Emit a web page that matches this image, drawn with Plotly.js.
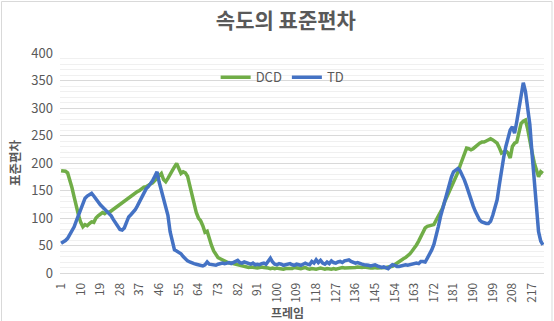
<!DOCTYPE html>
<html>
<head>
<meta charset="utf-8">
<script src="https://cdn.plot.ly/plotly-3.0.1.min.js"></script>
<style>
  html, body { margin: 0; padding: 0; background: #ffffff; }
  #chart { width: 554px; height: 321px; }
</style>
</head>
<body>
<div id="chart"></div>
<script>
// Frame categories 1..222
const frames = Array.from({length: 222}, (_, i) => i + 1);

const tickFrames = [1, 10, 19, 28, 37, 46, 55, 64, 73, 82, 91, 100, 109, 118, 127, 136, 145, 154, 163, 172, 181, 190, 199, 208, 217];
const tickLabels = ['1','10','19','28','37','46','55','64','73','82','91','100','109','118','127','136','145','154','163','172','181','190','199','208','217'];

const dcd = [
  186,186,185,182,170,155,138,120,105,92,
  84,88,86,90,93,92,100,104,108,110,
  108,111,110,113,115,118,121,125,127,130,
  134,136,140,143,146,148,150,154,156,157,
  160,162,164,168,172,176,181,170,166,172,
  178,186,193,199,190,181,184,182,176,160,
  140,128,110,100,95,86,74,76,60,50,
  40,34,28,26,24,21,19,18,18,17,
  16,14,13,12,12,11,10,11,10,10,
  9,10,11,10,10,9,8,9,8,9,
  8,7,7,8,8,9,8,10,9,9,
  8,9,10,8,7,8,7,7,8,9,
  8,7,8,7,7,8,7,8,9,10,
  9,9,9,10,9,10,11,10,10,11,
  10,10,9,9,10,9,9,9,10,10,
  11,11,12,15,18,21,23,26,28,31,
  35,40,45,51,58,66,74,82,85,86,
  86,88,96,104,110,118,130,139,148,156,
  163,172,183,195,205,216,227,226,224,226,
  230,233,236,238,238,240,242,244,242,239,
  236,228,218,220,222,218,209,230,236,238,
  258,272,276,278,262,236,220,201,188,175,
  184,181
];

const td = [
  54,56,59,63,70,78,84,95,105,115,
  128,136,140,143,145,140,134,128,124,120,
  116,112,110,104,97,90,84,79,78,82,
  92,102,106,110,115,122,130,136,145,153,
  157,162,168,176,184,165,150,138,125,105,
  75,55,42,40,37,35,30,25,22,20,
  18,17,16,15,14,13,15,20,16,15,
  15,14,16,17,18,17,18,19,17,19,
  22,23,19,18,20,19,17,16,18,15,
  16,15,17,18,16,22,27,20,16,15,
  17,16,14,15,16,17,15,14,16,15,
  14,16,18,16,15,21,18,24,19,23,
  18,16,20,17,22,19,18,20,21,19,
  22,23,24,21,20,18,19,17,16,15,
  15,14,13,14,15,13,12,10,11,10,
  8,12,15,14,12,12,13,14,15,14,
  15,16,18,18,17,21,21,20,27,34,
  42,52,66,84,102,116,133,148,163,174,
  184,188,190,186,178,169,158,145,133,122,
  112,102,96,93,91,90,90,94,105,120,
  133,160,187,210,230,246,260,266,254,275,
  296,322,346,330,296,270,218,170,115,75,
  58,51
];

const FONT = '"Noto Sans CJK KR", "Noto Sans", sans-serif';
const GREY = '#595959';

const traces = [
  {x: frames, y: dcd, name: 'DCD', type: 'scatter', mode: 'lines',
   line: {color: '#70AD47', width: 3.5}},
  {x: frames, y: td, name: 'TD', type: 'scatter', mode: 'lines',
   line: {color: '#4472C4', width: 3.5}}
];

const layout = {
  width: 554, height: 321,
  paper_bgcolor: '#ffffff', plot_bgcolor: '#ffffff',
  margin: {l: 60, r: 10, t: 53, b: 48},
  font: {family: FONT, color: GREY, size: 13},
  title: {text: '<b>속도의 표준편차</b>', font: {family: FONT, size: 21, color: GREY},
          x: 0.516, xref: 'container', xanchor: 'center', y: 0.935, yref: 'container', yanchor: 'middle'},
  showlegend: true,
  legend: {orientation: 'h', x: 0.46, xanchor: 'center', y: 0.89, yanchor: 'middle',
           bgcolor: 'rgba(0,0,0,0)', font: {family: FONT, size: 13, color: GREY},
           itemwidth: 30, tracegroupgap: 0},
  xaxis: {
    range: [0.5, 222.5], tickmode: 'array', tickvals: tickFrames, ticktext: tickLabels,
    tickangle: -90, showgrid: false, zeroline: false, showline: true, linecolor: '#d9d9d9',
    ticks: '', tickfont: {family: FONT, size: 12, color: GREY}, ticklabelstandoff: 4
  },
  yaxis: {
    range: [0, 400], dtick: 50, tick0: 0, showgrid: true, gridcolor: '#d9d9d9', gridwidth: 1,
    minor: {dtick: 10, showgrid: true, gridcolor: '#f0f0f0', gridwidth: 1},
    zeroline: false, showline: false, ticks: '',
    tickfont: {family: FONT, size: 13, color: GREY}, ticklabelstandoff: 6
  },
  annotations: [
    {text: '<b>표준편차</b>', textangle: -90, xref: 'paper', yref: 'paper',
     x: (14 - 60) / 484, y: 0.5, xanchor: 'center', yanchor: 'middle', showarrow: false,
     font: {family: FONT, size: 12.5, color: GREY}},
    {text: '<b>프레임</b>', xref: 'paper', yref: 'paper',
     x: (287 - 60) / 484, y: (273 - 322) / 220, xanchor: 'center', yanchor: 'bottom', showarrow: false,
     font: {family: FONT, size: 12, color: GREY}, borderpad: 0}
  ],
  shapes: [
    {type: 'rect', xref: 'paper', yref: 'paper', layer: 'below',
     x0: (1.5 - 60) / 484, x1: (552 - 60) / 484, y0: (273 - 330) / 220, y1: (273 - 1.5) / 220,
     line: {color: '#d9d9d9', width: 1}, fillcolor: 'rgba(0,0,0,0)'}
  ]
};

Plotly.newPlot('chart', traces, layout, {displayModeBar: false, staticPlot: true});
</script>
</body>
</html>
